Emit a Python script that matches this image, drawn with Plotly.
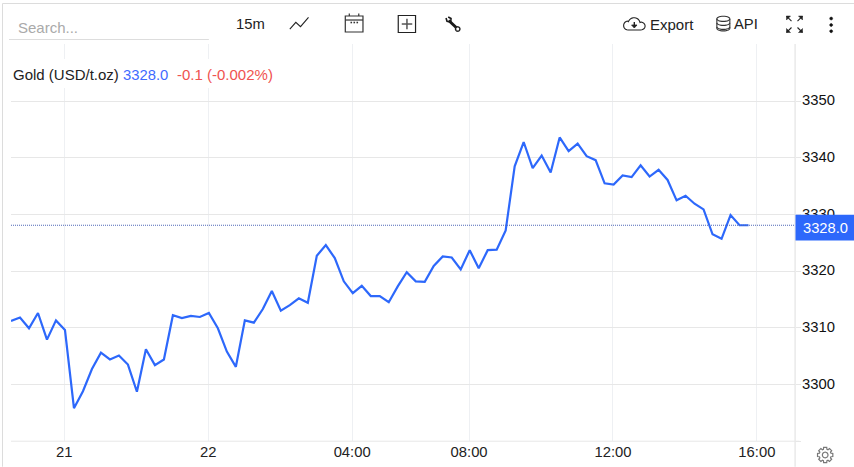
import math
import plotly.graph_objects as go

W, H = 854, 467
L, R, T, B = 11, 58.5, 44, 25.7

values = [3311.2, 3311.8, 3309.9, 3312.6, 3307.9, 3311.3, 3309.6, 3295.8, 3298.8, 3302.7,
          3305.6, 3304.4, 3305.1, 3303.5, 3298.7, 3306.2, 3303.4, 3304.4, 3312.2, 3311.7,
          3312.1, 3311.9, 3312.6, 3309.9, 3305.8, 3303.1, 3311.3, 3310.9, 3313.3, 3316.5,
          3313.0, 3314.0, 3315.2, 3314.4, 3322.7, 3324.6, 3322.3, 3318.2, 3316.1, 3317.4,
          3315.6, 3315.6, 3314.5, 3317.3, 3319.8, 3318.2, 3318.1, 3320.9, 3322.6, 3322.4,
          3320.3, 3323.7, 3320.5, 3323.7, 3323.8, 3327.2, 3338.5, 3342.8, 3338.2, 3340.4,
          3337.4, 3343.6, 3341.2, 3342.5, 3340.3, 3339.6, 3335.5, 3335.3, 3336.9, 3336.6,
          3338.7, 3336.7, 3337.9, 3336.1, 3332.5, 3333.3, 3331.9, 3330.9, 3326.5, 3325.7,
          3329.9, 3328.1, 3328.1]
bars = list(range(len(values)))
x_tick_bars = [5.93, 21.93, 37.93, 50.93, 66.93, 82.93]
x_tick_labels = ["21", "22", "04:00", "08:00", "12:00", "16:00"]
y_ticks = [3290, 3300, 3310, 3320, 3330, 3340, 3350]
y_tick_labels = ["", "3300", "3310", "3320", "3330", "3340", "3350"]
last_price = 3328.0


def px(x):
    return (x - L) / (W - L - R)


def py(y):
    return 1 - (y - T) / (H - T - B)


def path(points, close=False):
    s = "M" + " L".join(f"{px(a):.5f},{py(b):.5f}" for a, b in points)
    return s + (" Z" if close else "")


def circle_pts(cx, cy, rx, ry=None, n=28, a0=0.0, a1=2 * math.pi):
    ry = rx if ry is None else ry
    return [(cx + rx * math.cos(a0 + (a1 - a0) * k / n), cy + ry * math.sin(a0 + (a1 - a0) * k / n))
            for k in range(n + 1)]


shapes = []


def stroke(points, color="#222222", width=1.2, fill=None, close=False):
    shapes.append(dict(type="path", xref="paper", yref="paper", path=path(points, close),
                       line=dict(color=color, width=width),
                       fillcolor=fill if fill else "rgba(0,0,0,0)", layer="above"))


def rect(x0, y0, x1, y1, fill):
    shapes.append(dict(type="rect", xref="paper", yref="paper", x0=px(x0), x1=px(x1), y0=py(y0), y1=py(y1),
                       line=dict(width=0), fillcolor=fill, layer="above"))


# frame and axis rule
stroke([(2.5, 467), (2.5, 3.5), (860, 3.5)], "#dcdcdc", 1)
stroke([(795.6, 44), (795.6, 467)], "#e4e4e4", 1.2)
stroke([(9, 39.5), (209, 39.5)], "#dddddd", 1)
stroke([(11, 441.5), (800, 441.5)], "#e7e7e7", 1)
# white plate behind the legend
rect(11.5, 59, 275, 88, "#ffffff")

# last price line and box
shapes.append(dict(type="line", xref="paper", yref="y", x0=0, x1=1, y0=last_price + 0.1, y1=last_price + 0.1,
                   line=dict(color="#4f68b8", width=1, dash="1px,1px"), layer="above"))
rect(796, 215, 862, 240.7, "#2d68fb")

# line icon
stroke([(290, 29), (296, 22.3), (300.7, 26.7), (308.7, 17.3)], "#222222", 1.1)
# calendar icon
stroke([(345.5, 16), (363.2, 16), (363.2, 32), (345.5, 32)], "#333333", 1.2, close=True)
stroke([(345.5, 20), (363.2, 20)], "#333333", 1.2)
stroke([(349.5, 13.5), (349.5, 16)], "#333333", 1.2)
stroke([(359, 13.5), (359, 16)], "#333333", 1.2)
for dx in (351.5, 354.5, 357.5):
    rect(dx - 0.8, 21.7, dx + 0.8, 23.3, "#333333")
# plus box icon
stroke([(398.5, 15.5), (415.8, 15.5), (415.8, 32.5), (398.5, 32.5)], "#222222", 1.2, close=True)
stroke([(402, 24), (412.5, 24)], "#555555", 1.5)
stroke([(407.2, 18.7), (407.2, 29.3)], "#555555", 1.5)
# wrench icon
stroke([(449, 20.5), (456.5, 27.5)], "#1a1a1a", 3)
stroke([(446.3, 18), (447.3, 21.3), (451, 22), (451.3, 18.5), (448.5, 17)], "#1a1a1a", 1.6)
stroke(circle_pts(458, 29, 2.2), "#222222", 1.4)
# cloud icon
stroke([(628, 30)] + circle_pts(628.5, 25.5, 4.5, 4.5, 10, math.pi / 2, math.pi * 1.45)
       + circle_pts(634.5, 23.5, 6, 5.8, 12, math.pi * 1.1, math.pi * 1.95)
       + circle_pts(641, 26, 4.5, 4, 10, -math.pi * 0.45, math.pi / 2) + [(628, 30)], "#222222", 1.1)
stroke([(634.7, 22), (634.7, 26)], "#222222", 1.4)
stroke([(632, 25), (637.4, 25), (634.7, 28)], "#222222", 0.8, fill="#222222", close=True)
# database icon
stroke(circle_pts(723.8, 18.8, 6.5, 2.6), "#333333", 1.1)
for yy in (23, 27):
    stroke(circle_pts(723.8, yy - 0.2, 6.5, 2.6, 14, 0, math.pi), "#333333", 1.1)
stroke([(717.3, 18.8), (717.3, 28.3)] + circle_pts(723.8, 28.3, 6.5, 2.6, 14, math.pi, 0)
       + [(730.3, 18.8)], "#333333", 1.1)
# fullscreen icon
for sx, sy, cx, cy in [(-1, -1, 787, 16), (1, -1, 803, 16), (-1, 1, 787, 32.5), (1, 1, 803, 32.5)]:
    stroke([(cx, cy), (cx, cy - sy * 4), (cx - sx * 4, cy)], "#222222", 0.5, fill="#222222", close=True)
    stroke([(cx, cy), (cx - sx * 5, cy - sy * 5)], "#222222", 1.1)
# menu dots
for yy in (18.5, 25, 31.2):
    stroke(circle_pts(831.7, yy, 1.5, n=12), "#111111", 0.5, fill="#111111", close=True)
# gear icon
gear = []
for k in range(8):
    a = k * math.pi / 4
    for off, r in [(-0.3, 6.0), (-0.2, 7.8), (0.2, 7.8), (0.3, 6.0)]:
        gear.append((825.7 + r * math.cos(a + off), 455.3 + r * math.sin(a + off)))
stroke(gear, "#777777", 1.2, close=True)
stroke(circle_pts(825.7, 455.3, 2.8), "#777777", 1.2)


def label(x, y, text, color="#222222", size=14.5, anchor="left"):
    return dict(xref="paper", yref="paper", x=px(x), y=py(y), text=text, showarrow=False,
                xanchor=anchor, yanchor="middle", borderpad=0,
                font=dict(family="Liberation Sans", size=size, color=color))


annotations = [
    label(17, 27, "Search...", "#aaaaaa", 15),
    label(235, 24, "15m", "#222222", 14.8),
    label(649, 24, "Export", "#222222", 15),
    label(733, 24, "API", "#222222", 14.8),
    label(12, 75, "Gold (USD/t.oz)", "#222222", 15),
    label(122, 75, f"{last_price:.1f}", "#3f6bff", 14.8),
    label(176, 75, "-0.1 (-0.002%)", "#ef5350", 15),
    label(802.5, 228.5, f"{last_price:.1f}", "#ffffff", 14.7),
]

fig = go.Figure(go.Scatter(x=bars, y=values, mode="lines", line=dict(color="#2d68fb", width=2.2),
                           hoverinfo="skip", cliponaxis=False))
fig.update_layout(
    width=W, height=H, margin=dict(l=L, r=R, t=T, b=B, pad=0, autoexpand=False),
    paper_bgcolor="#ffffff", plot_bgcolor="#ffffff", showlegend=False,
    font=dict(family="Liberation Sans", size=14.5, color="#222222"),
    shapes=shapes, annotations=annotations,
    xaxis=dict(range=[0, (W - R - L) / 9], tickmode="array", tickvals=x_tick_bars, ticktext=x_tick_labels,
               showgrid=True, gridcolor="#eef0f3", gridwidth=1, zeroline=False, showline=False,
               ticks="", tickfont=dict(size=14.8, color="#222222"), fixedrange=True),
    yaxis=dict(range=[3290, 3290 + (H - T - B) / 5.667], side="right", tickmode="array", tickvals=y_ticks,
               ticktext=y_tick_labels, showgrid=True, gridcolor="#e7e7e7", gridwidth=1, zeroline=False,
               showline=False, ticks="outside", ticklen=5, tickcolor="#e7e7e7", tickwidth=1,
               ticklabelstandoff=-2, ticklabelshift=-1,
               tickfont=dict(size=14.8, color="#111111"), fixedrange=True),
)
fig.write_html("out.html", config=dict(displayModeBar=False),
               post_script="document.body.style.margin='0';document.body.style.overflow='hidden';")
